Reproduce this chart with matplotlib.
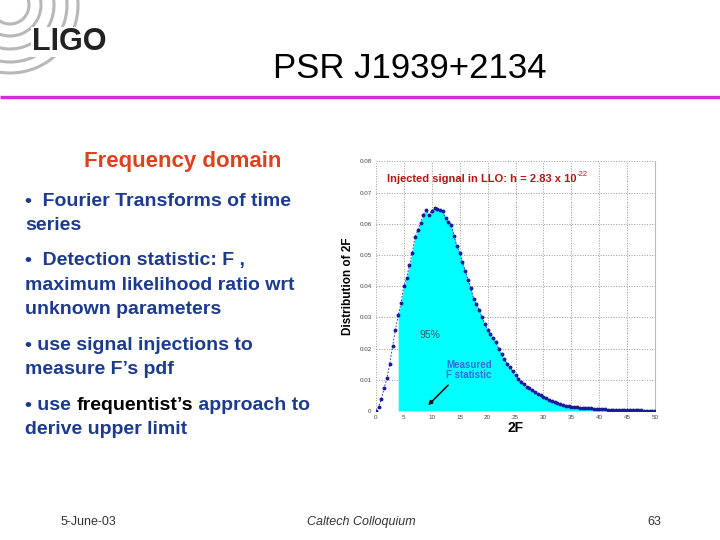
import matplotlib
matplotlib.use("Agg")
import matplotlib.pyplot as plt
from matplotlib.patches import Arc

plt.rcParams['font.family'] = ['Liberation Sans', 'DejaVu Sans']

# distribution of 2F (step 0.5 from 0 to 50)
two_f = [i * 0.5 for i in range(101)]
dist = [0.0000, 0.0012, 0.0038, 0.0074, 0.0106, 0.0152, 0.0209, 0.0259, 0.0307, 0.0345,
        0.0401, 0.0425, 0.0467, 0.0505, 0.0557, 0.0579, 0.0604, 0.0629, 0.0645, 0.0628,
        0.0642, 0.0650, 0.0649, 0.0643, 0.0642, 0.0618, 0.0607, 0.0597, 0.0561, 0.0529,
        0.0508, 0.0476, 0.0450, 0.0420, 0.0394, 0.0359, 0.0343, 0.0324, 0.0300, 0.0280,
        0.0260, 0.0247, 0.0235, 0.0220, 0.0199, 0.0183, 0.0166, 0.0152, 0.0140, 0.0127,
        0.0114, 0.0104, 0.0093, 0.0086, 0.0078, 0.0072, 0.0066, 0.0060, 0.0055, 0.0050,
        0.0045, 0.0041, 0.0036, 0.0032, 0.0028, 0.0025, 0.0022, 0.0019, 0.0017, 0.0015,
        0.0014, 0.0013, 0.0012, 0.0011, 0.0010, 0.0009, 0.0009, 0.0008, 0.0007, 0.0006,
        0.0006, 0.0005, 0.0005, 0.0004, 0.0004, 0.0004, 0.0003, 0.0003, 0.0003, 0.0003,
        0.0002, 0.0002, 0.0002, 0.0002, 0.0002, 0.0002, 0.0001, 0.0001, 0.0001, 0.0001,
        0.0001]
measured_2f = 4.0
x_ticks = [0, 5, 10, 15, 20, 25, 30, 35, 40, 45, 50]
y_ticks = [0, 0.01, 0.02, 0.03, 0.04, 0.05, 0.06, 0.07, 0.08]
y_ticklabels = ['0', '0.01', '0.02', '0.03', '0.04', '0.05', '0.06', '0.07', '0.08']

blue_txt = '#1C3A8E'

fig = plt.figure(figsize=(7.2, 5.4), dpi=100)

# slide background layer in pixel coords
bg = fig.add_axes([0, 0, 1, 1])
bg.set_xlim(0, 720)
bg.set_ylim(540, 0)
bg.axis('off')

# LIGO logo arcs
for r in [19, 31, 44, 57, 68]:
    bg.add_patch(Arc((10, 5), 2 * r, 2 * r, theta1=0, theta2=360,
                     color='#b8b8b8', lw=2.2))
bg.text(69, 42, 'LIGO', fontsize=22, fontweight='bold', color='#222222',
        ha='center', va='center',
        bbox=dict(facecolor='white', edgecolor='none', pad=0.2))

bg.text(410, 68, 'PSR J1939+2134', fontsize=25, color='black', ha='center', va='center')
bg.plot([0, 720], [97, 97], color='#CC33CC', lw=2.4, solid_capstyle='butt')

bg.text(183, 162, 'Frequency domain', fontsize=16, fontweight='bold',
        color='#E0401E', ha='center', va='center')

lines = [
    ('•  Fourier Transforms of time', 201),
    ('series', 225),
    ('•  Detection statistic: F ,', 261),
    ('maximum likelihood ratio wrt', 285),
    ('unknown parameters', 309),
    ('• use signal injections to', 346),
    ('measure F’s pdf', 369),
    ('derive upper limit', 429),
]
for s, y in lines:
    bg.text(25, y, s, fontsize=14, fontweight='bold', color=blue_txt,
            ha='left', va='center')

t1 = bg.text(25, 405, '• use ', fontsize=14, fontweight='bold', color=blue_txt,
             ha='left', va='center')
t2 = bg.annotate('frequentist’s', xy=(1, 0), xycoords=t1, va='bottom', ha='left',
                 fontsize=14, fontweight='bold', color='black')
bg.annotate(' approach to', xy=(1, 0), xycoords=t2, va='bottom', ha='left',
            fontsize=14, fontweight='bold', color=blue_txt)

# footer
bg.text(88, 522, '5-June-03', fontsize=9, color='#333333', ha='center', va='center')
bg.text(361, 522, 'Caltech Colloquium', fontsize=9, style='italic', color='#333333',
        ha='center', va='center')
bg.text(654, 522, '63', fontsize=9, color='#333333', ha='center', va='center')

# chart
ax = fig.add_axes([0.522, 0.239, 0.388, 0.462])
ax.fill_between(two_f, dist, 0, where=[x >= measured_2f for x in two_f],
                color='#00FFFF', lw=0, zorder=1)
ax.plot(two_f, dist, ls=(0, (2, 2)), color='#2020a0', lw=0.6, zorder=2)
ax.plot(two_f, dist, 'o', color='#1a1a9c', ms=2.8, mew=0, zorder=3)

ax.set_xlim(0, 50)
ax.set_ylim(0, 0.08)
ax.set_xticks(x_ticks)
ax.set_xticklabels([str(v) for v in x_ticks])
ax.set_yticks(y_ticks)
ax.set_yticklabels(y_ticklabels)
ax.tick_params(labelsize=4.5, length=0, pad=3, colors='#444444')
ax.grid(True, ls=':', color='#999999', lw=0.7)
ax.set_axisbelow(True)
for side in ['left', 'top', 'bottom']:
    ax.spines[side].set_visible(False)
ax.spines['right'].set_color('#bbbbbb')
ax.spines['right'].set_linewidth(0.8)

ax.set_xlabel('2F', fontsize=10, fontweight='bold', labelpad=1)
ax.set_ylabel('Distribution of 2F', fontsize=8.5, fontweight='bold', labelpad=4)

ti = ax.text(0.04, 0.93, 'Injected signal in LLO: h = 2.83 x 10', transform=ax.transAxes,
             fontsize=8, fontweight='bold', color='#B81414', ha='left', va='center')
ax.annotate('-22', xy=(1, 0.6), xycoords=ti, fontsize=5.5, color='#B81414',
            ha='left', va='bottom')

ax.text(9.7, 0.0244, '95%', fontsize=7.5, color='#2F5A5A', ha='center', va='center')
ax.text(12.6, 0.0162, 'Measured\nF statistic', fontsize=7, fontweight='bold',
        color='#2A6FE0', ha='left', va='top', linespacing=1.0)
ax.annotate('', xy=(9.0, 0.0012), xytext=(13.3, 0.0089),
            arrowprops=dict(arrowstyle='-|>', color='black', lw=1.1, mutation_scale=6))

fig.savefig('out.png', dpi=100)
